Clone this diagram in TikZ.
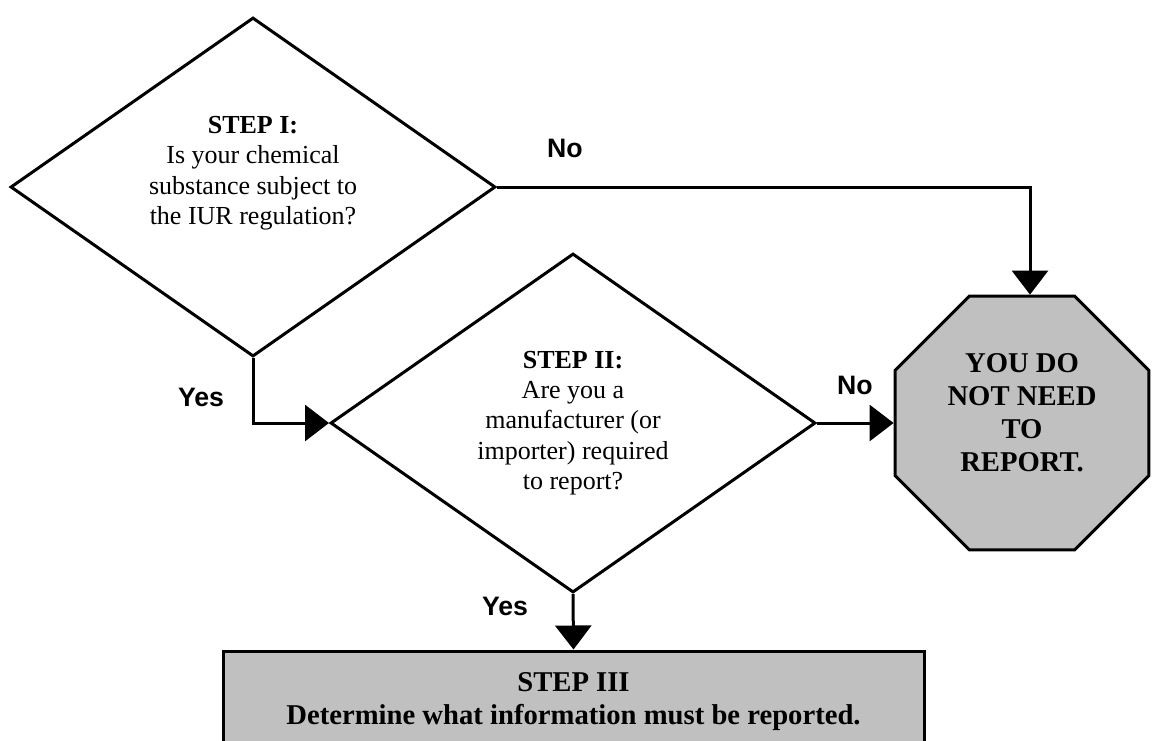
\documentclass[tikz,border=0pt]{standalone}
\usepackage{fontspec}
\setmainfont{Liberation Serif}
\setsansfont{Liberation Sans}
\usepackage{xcolor}
\usetikzlibrary{
  shapes.geometric, arrows.meta, positioning, calc
}
\definecolor{boxgray}{RGB}{192,192,192}
\tikzset{
  %% Decision diamond
  decision/.style={
    diamond, draw=black, fill=white, aspect=1.43,
    minimum width=363.75pt, minimum height=254.25pt,
    inner sep=2pt, align=center, line width=2.25pt,
    font=\fontsize{19.5pt}{22.8pt}\selectfont
  },
  %% Text inside a shape
  dtext/.style={
    align=center, inner sep=0pt,
    font=\fontsize{19.5pt}{22.8pt}\selectfont
  },
  %% Stop octagon
  stopsign/.style={
    regular polygon, regular polygon sides=8,
    draw=black, fill=boxgray, minimum size=206pt,
    line width=2.25pt
  },
  stoptext/.style={
    align=center, inner sep=0pt,
    font=\fontsize{21.5pt}{24.75pt}\selectfont\bfseries
  },
  %% Result box
  result/.style={
    rectangle, draw=black, fill=boxgray,
    minimum width=525.75pt, minimum height=76.5pt,
    align=center, line width=2.25pt,
    font=\fontsize{21.5pt}{24.75pt}\selectfont\bfseries
  },
  %% Arrow
  arr/.style={-{Triangle[length=18pt,width=27pt]},
              draw=black, line width=2.25pt},
  %% Yes / No label
  lbl/.style={font=\fontsize{20pt}{24pt}\sffamily\bfseries}
}

\begin{document}
\begin{tikzpicture}[x=0.75pt, y=-0.75pt]
  \clip (0,0) rectangle (1156,740);

  \node[decision] (d1) at (253,187) {};
  \node[dtext] (d1txt) at ([yshift=10.5pt]d1.center)
       {\textbf{STEP I:}\\Is your chemical\\substance subject to\\the IUR regulation?};

  \node[decision] (d2) at (573,423)
       {\textbf{STEP II:}\\Are you a\\manufacturer (or\\importer) required\\to report?};

  \node[stopsign] (oct) at (1022,423) {};
  \node[stoptext] (octtxt) at ([yshift=8pt]oct.center)
       {YOU DO\\NOT NEED\\TO\\REPORT.};

  \node[result] (s3) at (573.5,702)
       {STEP III\\Determine what information must be reported.};

  \draw[arr] (d1.east) -| ([xshift=6pt]oct.north);
  \draw[arr] (d1.south) |- (d2.west);
  \draw[arr] (d2.east) -- (oct.west);
  \draw[arr] (d2.south) -- (s3.north);

  \node[lbl] (no1)  at (565,148) {No};
  \node[lbl] (yes1) at (201,397) {Yes};
  \node[lbl] (no2)  at (855,385) {No};
  \node[lbl] (yes2) at (505,606) {Yes};

\end{tikzpicture}
\end{document}
